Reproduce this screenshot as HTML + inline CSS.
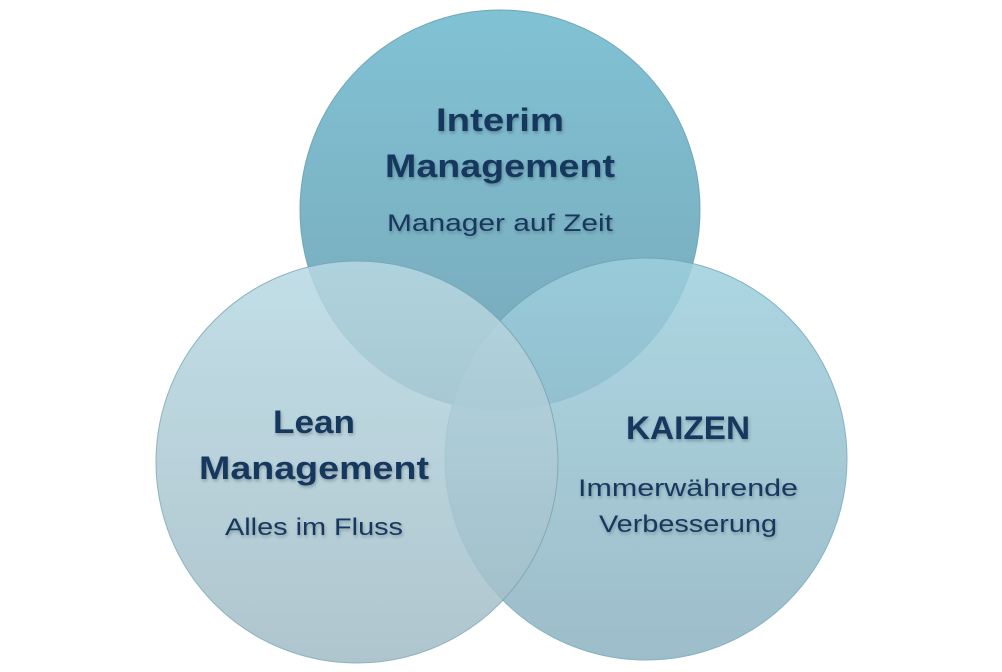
<!DOCTYPE html>
<html><head><meta charset="utf-8"><style>
html,body{margin:0;padding:0;background:#fff;width:1002px;height:672px;overflow:hidden}
</style></head><body>
<svg width="1002" height="672" viewBox="0 0 1002 672" xmlns="http://www.w3.org/2000/svg">
<defs>
<linearGradient id="gt" x1="0" y1="0" x2="0" y2="1"><stop offset="0" stop-color="#80c2d4"/><stop offset="1" stop-color="#78a8b9"/></linearGradient>
<linearGradient id="gl" x1="0" y1="0" x2="0" y2="1"><stop offset="0" stop-color="#b8d9e3"/><stop offset="1" stop-color="#a2bcc6"/></linearGradient>
<linearGradient id="gr" x1="0" y1="0" x2="0" y2="1"><stop offset="0" stop-color="#9ed0de"/><stop offset="1" stop-color="#8cb2c0"/></linearGradient>
<filter id="sh"><feDropShadow dx="1" dy="2" stdDeviation="1.5" flood-color="#000" flood-opacity="0.25"/></filter>
</defs>
<circle cx="500" cy="210" r="200" fill="url(#gt)" stroke="#6fa6b6" stroke-width="1"/>
<circle cx="646" cy="459" r="201" fill="url(#gr)" opacity="0.85" stroke="#6fa6b6" stroke-width="1"/>
<circle cx="357" cy="462" r="201" fill="url(#gl)" opacity="0.85" stroke="#7aa6b4" stroke-width="1"/>
<g font-family="Liberation Sans, sans-serif" fill="#17375e" text-anchor="middle" filter="url(#sh)">
<text x="500" y="131" font-size="32" font-weight="bold" textLength="128" lengthAdjust="spacingAndGlyphs">Interim</text>
<text x="500" y="177" font-size="32" font-weight="bold" textLength="230" lengthAdjust="spacingAndGlyphs">Management</text>
<text x="500" y="231" font-size="24" textLength="226" lengthAdjust="spacingAndGlyphs">Manager auf Zeit</text>
<text x="314" y="433" font-size="32" font-weight="bold" textLength="82" lengthAdjust="spacingAndGlyphs">Lean</text>
<text x="314" y="479" font-size="32" font-weight="bold" textLength="230" lengthAdjust="spacingAndGlyphs">Management</text>
<text x="314" y="535" font-size="24" textLength="178" lengthAdjust="spacingAndGlyphs">Alles im Fluss</text>
<text x="688" y="439" font-size="32" font-weight="bold" textLength="124" lengthAdjust="spacingAndGlyphs">KAIZEN</text>
<text x="688" y="496" font-size="24" textLength="220" lengthAdjust="spacingAndGlyphs">Immerwährende</text>
<text x="688" y="532" font-size="24" textLength="178" lengthAdjust="spacingAndGlyphs">Verbesserung</text>
</g>
</svg>
</body></html>
